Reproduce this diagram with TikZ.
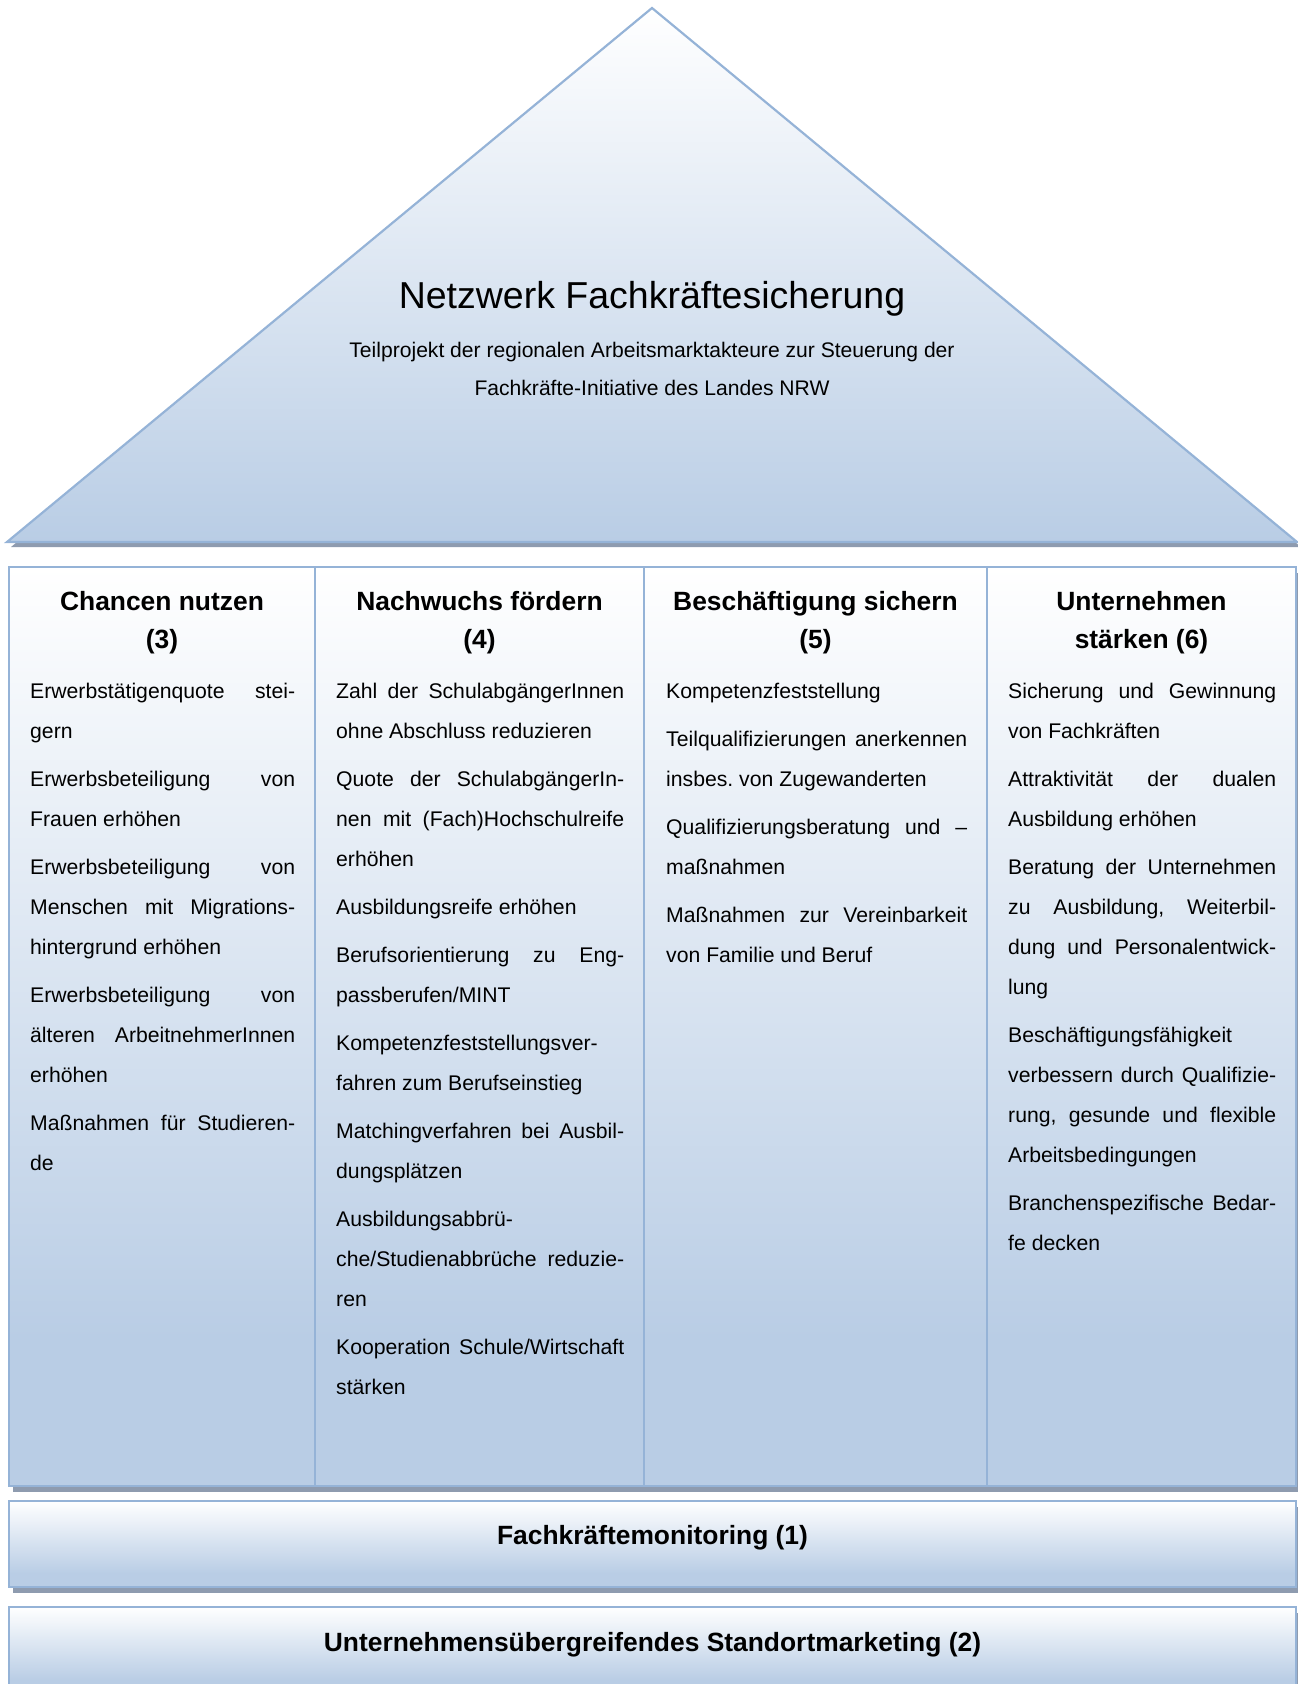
\documentclass[tikz,border=0pt]{standalone}
\usepackage{fontspec}
\setmainfont{Liberation Sans}
\definecolor{blu}{RGB}{185,205,229}
\definecolor{edgeblue}{RGB}{149,179,215}
\definecolor{shadowgray}{RGB}{142,155,175}
\pgfdeclareverticalshading{colgrad}{100bp}{color(0bp)=(blu); color(25bp)=(blu); color(33bp)=(blu); color(75bp)=(white); color(100bp)=(white)}
\pgfdeclareverticalshading{roofgrad}{100bp}{color(0bp)=(blu); color(25bp)=(blu); color(75bp)=(white); color(100bp)=(white)}
\newcommand{\colsetup}{\setlength{\parskip}{8pt}\hyphenpenalty=10000 \exhyphenpenalty=10000 \frenchspacing\tolerance=10000 }
\begin{document}
\begin{tikzpicture}[x=1pt,y=-1pt,
  shadowbox/.style={fill=shadowgray, draw=none},
  panel/.style={shading=colgrad, draw=edgeblue, line width=2.2pt},
  bodytext/.style={anchor=base west, inner sep=0pt, font=\fontsize{21.2}{40}\selectfont},
  headtext/.style={anchor=base, inner sep=0pt, font=\fontsize{26.4}{38}\selectfont\bfseries},
  bartext/.style={anchor=base, inner sep=0pt, font=\fontsize{26.4}{32}\selectfont\bfseries},
  subtext/.style={anchor=base, inner sep=0pt, font=\fontsize{21.1}{39}\selectfont}]
\useasboundingbox (0,0) rectangle (1298,1684);
\begin{scope}
\clip (0,0) rectangle (1298,1684);
% roof
\fill[shadowgray] (11,547) -- (657,13) -- (1301,547) -- cycle;
\path[shading=roofgrad, draw=edgeblue, line width=2.2pt, line join=miter] (7,542) -- (652,8) -- (1297,542) -- cycle;
% column shadows
\fill[shadowgray] (13,573) rectangle (319,1492);
\fill[shadowgray] (319,573) rectangle (648,1492);
\fill[shadowgray] (648,573) rectangle (991,1492);
\fill[shadowgray] (991,573) rectangle (1300,1492);
% columns
\path[panel] (9,567) rectangle (315,1486);
\path[panel] (315,567) rectangle (644,1486);
\path[panel] (644,567) rectangle (987,1486);
\path[panel] (987,567) rectangle (1296,1486);
% bars
\fill[shadowgray] (13,1507) rectangle (1300,1593);
\path[panel] (9,1501) rectangle (1296,1587);
\fill[shadowgray] (13,1613) rectangle (1300,1700);
\path[panel] (9,1607) rectangle (1296,1694);
\end{scope}
% roof text
\node[anchor=base, inner sep=0pt, font=\fontsize{37.5}{44}\selectfont] (title) at (652,308) {Netzwerk Fachkräftesicherung};
\node[subtext] (sub1) at (652,357) {Teilprojekt der regionalen Arbeitsmarktakteure zur Steuerung der};
\node[subtext] (sub2) at (652,395) {Fachkräfte-Initiative des Landes NRW};
% headings
\node[headtext] (h3) at (162,610) {\parbox[t]{290pt}{\centering Chancen nutzen\\(3)}};
\node[headtext] (h4) at (479.5,610) {\parbox[t]{320pt}{\centering Nachwuchs fördern\\(4)}};
\node[headtext] (h5) at (815.5,610) {\parbox[t]{330pt}{\centering Beschäftigung sichern\\(5)}};
\node[headtext] (h6) at (1141.5,610) {\parbox[t]{300pt}{\centering Unternehmen\\stärken (6)}};
% column bodies
\node[bodytext] (c3) at (30,698) {\parbox[t]{265pt}{\colsetup
Erwerbstätigenquote~stei-\linebreak gern\par
Erwerbsbeteiligung~von\linebreak Frauen~erhöhen\par
Erwerbsbeteiligung~von\linebreak Menschen~mit~Migrations-\linebreak hintergrund~erhöhen\par
Erwerbsbeteiligung~von\linebreak älteren~ArbeitnehmerInnen\linebreak erhöhen\par
Maßnahmen~für~Studieren-\linebreak de}};
\node[bodytext] (c4) at (336,698) {\parbox[t]{288pt}{\colsetup
Zahl~der~SchulabgängerInnen\linebreak ohne~Abschluss~reduzieren\par
Quote~der~SchulabgängerIn-\linebreak nen~mit~(Fach)Hochschulreife\linebreak erhöhen\par
Ausbildungsreife~erhöhen\par
Berufsorientierung~zu~Eng-\linebreak passberufen/MINT\par
Kompetenzfeststellungsver-\linebreak fahren~zum~Berufseinstieg\par
Matchingverfahren~bei~Ausbil-\linebreak dungsplätzen\par
Ausbildungsabbrü-\linebreak che/Studienabbrüche~reduzie-\linebreak ren\par
Kooperation~Schule/Wirtschaft\linebreak stärken}};
\node[bodytext] (c5) at (666,698) {\parbox[t]{301pt}{\colsetup
Kompetenzfeststellung\par
Teilqualifizierungen~anerkennen\linebreak insbes.~von~Zugewanderten\par
Qualifizierungsberatung~und~–\linebreak maßnahmen\par
Maßnahmen~zur~Vereinbarkeit\linebreak von~Familie~und~Beruf}};
\node[bodytext] (c6) at (1008,698) {\parbox[t]{268pt}{\colsetup
Sicherung~und~Gewinnung\linebreak von~Fachkräften\par
Attraktivität~der~dualen\linebreak Ausbildung~erhöhen\par
Beratung~der~Unternehmen\linebreak zu~Ausbildung,~Weiterbil-\linebreak dung~und~Personalentwick-\linebreak lung\par
Beschäftigungsfähigkeit\linebreak verbessern~durch~Qualifizie-\linebreak rung,~gesunde~und~flexible\linebreak Arbeitsbedingungen\par
Branchenspezifische~Bedar-\linebreak fe~decken}};
% bars
\node[bartext] (b1) at (652.5,1544) {Fachkräftemonitoring (1)};
\node[bartext] (b2) at (652.5,1651) {Unternehmensübergreifendes Standortmarketing (2)};
\end{tikzpicture}
\end{document}
